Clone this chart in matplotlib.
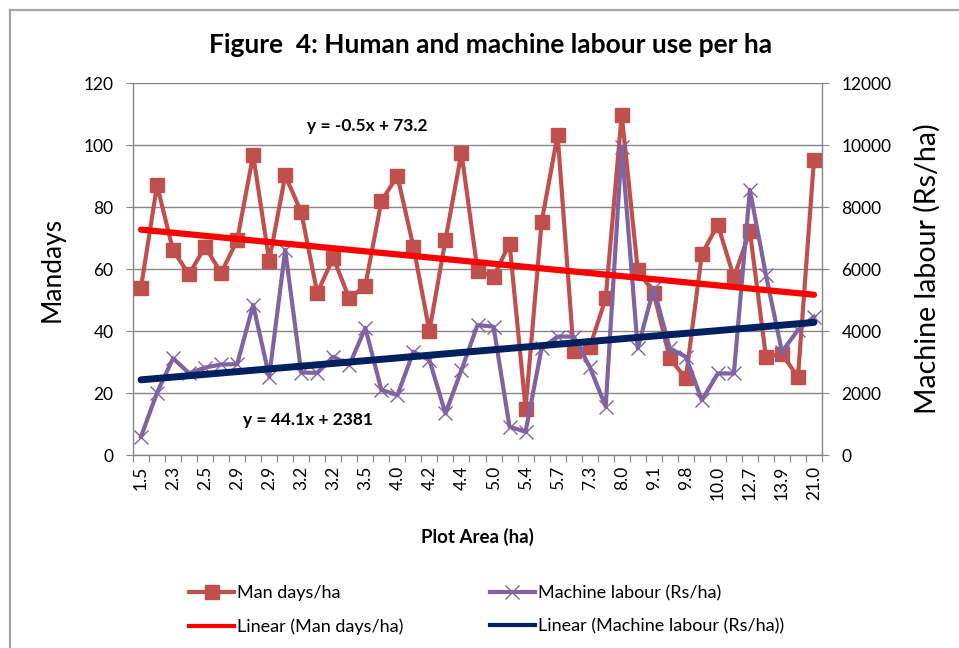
import matplotlib
matplotlib.use("Agg")
import matplotlib.pyplot as plt
import numpy as np
from matplotlib.lines import Line2D

plt.rcParams['font.family'] = ['Lato', 'DejaVu Sans']

# ---- data ----
plot_area_labels = ["1.5", "2.3", "2.5", "2.9", "2.9", "3.2", "3.2", "3.5", "4.0", "4.2", "4.4",
                    "5.0", "5.4", "5.7", "7.3", "8.0", "9.1", "9.8", "10.0", "12.7", "13.9", "21.0"]
man_days = [54, 87, 66, 58.3, 67.2, 58.7, 69.3, 96.8, 62.6, 90.2, 78.3, 52.3, 63.6, 50.5, 54.6,
            81.9, 90, 67.2, 40, 69.4, 97.5, 59.5, 57.5, 68.2, 15, 75.1, 103.3, 33.4, 34.7, 50.5,
            109.8, 59.7, 52.2, 31.2, 24.7, 64.8, 74.3, 57.3, 72.2, 31.7, 32.6, 25.1, 95.3]
machine = [590, 2010, 3120, 2640, 2820, 2920, 2930, 4840, 2530, 6610, 2660, 2650, 3170, 2900, 4100,
           2100, 1930, 3330, 3060, 1340, 2740, 4190, 4140, 910, 750, 3440, 3820, 3820, 2850, 1560,
           9950, 3440, 5380, 3440, 3170, 1770, 2630, 2630, 8550, 5810, 3330, 4030, 4460]
trend_man = (-0.5, 73.2)
trend_machine = (44.1, 2381)

n = len(man_days)
x = np.arange(n)
xs = x + 1  # Excel trendline x (1-based)

W, H = 959, 648
fig = plt.figure(figsize=(W / 100, H / 100), dpi=100)

# outer chart frame (top and left edges visible)
fig.add_artist(Line2D([10 / W, 10 / W], [0, 1 - 10 / H], color='#a6a6a6', lw=1.6))
fig.add_artist(Line2D([10 / W, 1], [1 - 10 / H, 1 - 10 / H], color='#a6a6a6', lw=1.6))

L, R, T, B = 133, 822, 83, 455
rect = [L / W, 1 - B / H, (R - L) / W, (B - T) / H]
ax1 = fig.add_axes(rect)
ax2 = ax1.twinx()
ax3 = ax1.twinx()
ax4 = ax1.twinx()

grid_c = '#868686'
ax1.set_xlim(-0.5, n - 0.5)
ax1.set_ylim(0, 120)
ax2.set_ylim(0, 12000)
ax3.set_ylim(0, 120)
ax4.set_ylim(0, 12000)

ax1.set_yticks(np.arange(0, 121, 20))
ax1.yaxis.grid(True, color=grid_c, lw=1)
ax1.set_axisbelow(True)
ax2.set_yticks(np.arange(0, 12001, 2000))

for a in (ax3, ax4):
    a.set_yticks([])
    for s in a.spines.values():
        s.set_visible(False)

for a in (ax1, ax2):
    a.spines['top'].set_visible(False)
    for s in ('left', 'right', 'bottom'):
        a.spines[s].set_color(grid_c)
        a.spines[s].set_linewidth(1)
ax2.spines['left'].set_visible(False)
ax2.spines['bottom'].set_visible(False)
ax1.spines['right'].set_visible(False)

ax1.tick_params(axis='y', length=5, color=grid_c, labelsize=12.5, pad=9)
ax2.tick_params(axis='y', length=5, color=grid_c, labelsize=12.5, pad=9)

# x ticks: marks at boundaries, labels at every other category
ax1.set_xticks(np.arange(-0.5, n, 1.0))
ax1.set_xticklabels([])
ax1.tick_params(axis='x', which='major', length=5, color=grid_c)
ax1.set_xticks(x[::2], minor=True)
ax1.set_xticklabels(plot_area_labels, minor=True, rotation=90, fontsize=12.5)
ax1.tick_params(axis='x', which='minor', length=0, pad=8)

# series
red = '#C0504D'
purple = '#8064A2'
ax1.plot(x, man_days, color=red, lw=3, marker='s', markersize=10, markeredgecolor=red,
         markerfacecolor=red, zorder=3)
ax2.plot(x, machine, color=purple, lw=3, marker='x', markersize=10, markeredgewidth=1,
         markeredgecolor=purple, zorder=3)
ax3.plot(x, trend_man[0] * xs + trend_man[1], color='#FF0000', lw=4.5, solid_capstyle='round')
ax4.plot(x, trend_machine[0] * xs + trend_machine[1], color='#002060', lw=5, solid_capstyle='round')

# texts
fig.text(491 / W, 1 - 45 / H, "Figure  4: Human and machine labour use per ha", ha='center',
         va='center', fontsize=19, fontweight='bold')
fig.text(52 / W, 1 - 269 / H, "Mandays", rotation=90, ha='center', va='center', fontsize=19)
fig.text(927 / W, 1 - 269 / H, "Machine labour (Rs/ha)", rotation=90, ha='center', va='center',
         fontsize=20.5)
fig.text(477 / W, 1 - 537 / H, "Plot Area (ha)", ha='center', va='center', fontsize=13.5,
         fontweight='bold')
fig.text(367 / W, 1 - 126 / H, "y = -0.5x + 73.2", ha='center', va='center', fontsize=12.5,
         fontweight='bold')
fig.text(308 / W, 1 - 420 / H, "y = 44.1x + 2381", ha='center', va='center', fontsize=12.5,
         fontweight='bold')

handles = [
    Line2D([], [], color=red, lw=3, marker='s', markersize=10, markerfacecolor=red, markeredgecolor=red),
    Line2D([], [], color='#FF0000', lw=3),
    Line2D([], [], color=purple, lw=3, marker='x', markersize=10, markeredgewidth=1),
    Line2D([], [], color='#002060', lw=3),
]
labels = ["Man days/ha", "Linear (Man days/ha)", "Machine labour (Rs/ha)",
          "Linear (Machine labour (Rs/ha))"]
fig.legend(handles, labels, ncol=2, loc='center left', bbox_to_anchor=(189 / W, 1 - 610 / H),
           frameon=False, fontsize=13, handlelength=2.5, handletextpad=0.15,
           columnspacing=4.8, labelspacing=0.95, borderpad=0, borderaxespad=0)

fig.savefig("out.png", dpi=100)
